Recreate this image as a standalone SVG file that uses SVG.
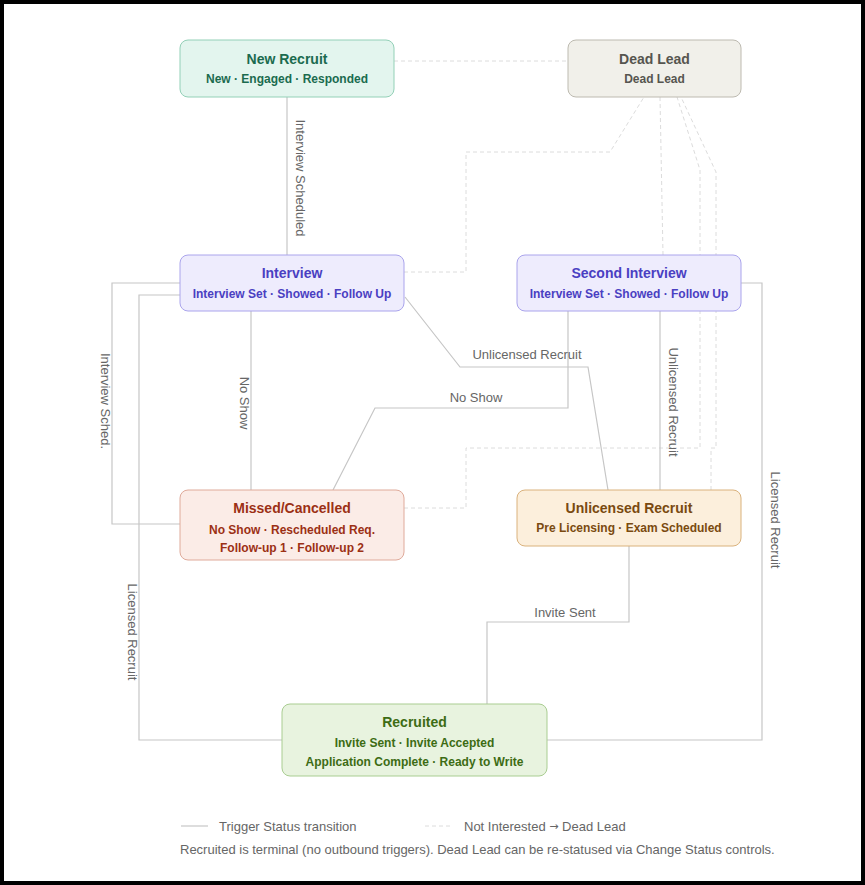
<svg xmlns="http://www.w3.org/2000/svg" width="865" height="885" viewBox="0 0 865 885">
<style>
text{font-family:"Liberation Sans",Arial,sans-serif}
.t{font-size:14px;font-weight:700;text-anchor:middle;dominant-baseline:central}
.s{font-size:12px;font-weight:700;text-anchor:middle;dominant-baseline:central}
.e{fill:none;stroke:#c6c6c6;stroke-width:1.2}
.d{fill:none;stroke:#dcdcdc;stroke-width:1;stroke-dasharray:4 3}
.l{font-size:13px;fill:#666;text-anchor:middle;dominant-baseline:central}
.g{font-size:13px;fill:#666;dominant-baseline:central}
.a{font-family:"DejaVu Sans",sans-serif;font-size:11px}
</style>
<rect x="0" y="0" width="865" height="885" fill="#fff"/>
<rect x="2" y="2" width="861" height="881" fill="none" stroke="#000" stroke-width="4"/>
<g id="connectors">
<path class="d" d="M394 61H568"/>
<path class="d" d="M404 272H466V152H610L644 97"/>
<path class="d" d="M663 255L660 97"/>
<path class="d" d="M404 508H466V448H700V170L677 97"/>
<path class="d" d="M711 490V448H716V172L681 97"/>
<path class="e" d="M287 97V255"/>
<path class="e" d="M251 311V490"/>
<path class="e" d="M405 297L460 367H588L608 490"/>
<path class="e" d="M568 311V408H375L333 490"/>
<path class="e" d="M660 311V490"/>
<path class="e" d="M180 524H112V283H180"/>
<path class="e" d="M180 295H139V740H282"/>
<path class="e" d="M741 283H762V740H547"/>
<path class="e" d="M629 546V622H487V704"/>
<text class="l" transform="translate(300 178) rotate(90)">Interview Scheduled</text>
<text class="l" transform="translate(244 403) rotate(90)">No Show</text>
<text class="l" transform="translate(105 401) rotate(90)">Interview Sched.</text>
<text class="l" transform="translate(132 632) rotate(90)">Licensed Recruit</text>
<text class="l" transform="translate(673 402) rotate(90)">Unlicensed Recruit</text>
<text class="l" transform="translate(775 520) rotate(90)">Licensed Recruit</text>
<text class="l" x="527" y="354">Unlicensed Recruit</text>
<text class="l" x="476" y="397">No Show</text>
<text class="l" x="565" y="612">Invite Sent</text>
</g>
<g id="new-recruit">
<rect x="180" y="40" width="214" height="57" rx="8" fill="#e3f5ee" stroke="#93d0b7"/>
<text class="t" x="287" y="59" fill="#1b6b4e">New Recruit</text>
<text class="s" x="287" y="79" fill="#1b6b4e">New · Engaged · Responded</text>
</g>
<g id="dead-lead">
<rect x="568" y="40" width="173" height="57" rx="8" fill="#f1f0ea" stroke="#bdbab0"/>
<text class="t" x="654.5" y="59" fill="#56554f">Dead Lead</text>
<text class="s" x="654.5" y="79" fill="#56554f">Dead Lead</text>
</g>
<g id="interview">
<rect x="180" y="255" width="224" height="56" rx="8" fill="#eeecfd" stroke="#aaa4ec"/>
<text class="t" x="292" y="273" fill="#4a3fc2">Interview</text>
<text class="s" x="292" y="294" fill="#4a3fc2">Interview Set · Showed · Follow Up</text>
</g>
<g id="second-interview">
<rect x="517" y="255" width="224" height="56" rx="8" fill="#eeecfd" stroke="#aaa4ec"/>
<text class="t" x="629" y="273" fill="#4a3fc2">Second Interview</text>
<text class="s" x="629" y="294" fill="#4a3fc2">Interview Set · Showed · Follow Up</text>
</g>
<g id="missed-cancelled">
<rect x="180" y="490" width="224" height="70" rx="8" fill="#fbece7" stroke="#dfaa9a"/>
<text class="t" x="292" y="508" fill="#9c3015">Missed/Cancelled</text>
<text class="s" x="292" y="530" fill="#9c3015">No Show · Rescheduled Req.</text>
<text class="s" x="292" y="548" fill="#9c3015">Follow-up 1 · Follow-up 2</text>
</g>
<g id="unlicensed-recruit">
<rect x="517" y="490" width="224" height="56" rx="8" fill="#fcefdc" stroke="#dab27d"/>
<text class="t" x="629" y="508" fill="#7a4a10">Unlicensed Recruit</text>
<text class="s" x="629" y="528" fill="#7a4a10">Pre Licensing · Exam Scheduled</text>
</g>
<g id="recruited">
<rect x="282" y="704" width="265" height="72" rx="8" fill="#e8f3df" stroke="#a9cd91"/>
<text class="t" x="414.5" y="722" fill="#3d6c14">Recruited</text>
<text class="s" x="414.5" y="743" fill="#3d6c14">Invite Sent · Invite Accepted</text>
<text class="s" x="414.5" y="762" fill="#3d6c14">Application Complete · Ready to Write</text>
</g>
<g id="legend">
<path class="e" d="M181 826H208"/>
<text class="g" x="219" y="826">Trigger Status transition</text>
<path class="d" d="M425 826H452"/>
<text class="g" x="464" y="826">Not Interested <tspan class="a">→</tspan> Dead Lead</text>
<text class="g" x="180" y="849">Recruited is terminal (no outbound triggers). Dead Lead can be re-statused via Change Status controls.</text>
</g>
</svg>
